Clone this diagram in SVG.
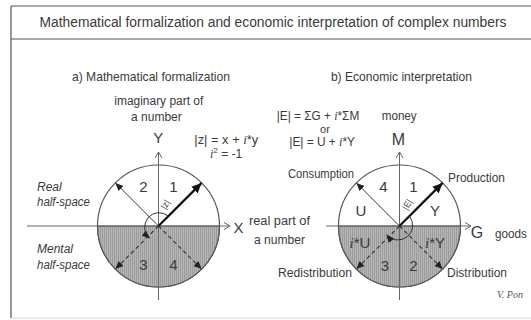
<svg xmlns="http://www.w3.org/2000/svg" width="531" height="320" viewBox="0 0 531 320">
<style>
text{font-family:"Liberation Sans",Arial,sans-serif;fill:#3a3a3a;}
.t12{font-size:12px;}
.t13{font-size:13px;}
.big{font-size:15px;}
.it{font-style:italic;}
.iv{font-family:"Liberation Serif","Times New Roman",serif;font-style:italic;}
.axis{stroke:#666;stroke-width:1;fill:none;}
.circ{stroke:#555;stroke-width:1.2;fill:#fff;}
.thin{stroke:#333;stroke-width:1;fill:none;}
.dash{stroke:#333;stroke-width:1.1;fill:none;stroke-dasharray:4 3;}
.thick{stroke:#111;stroke-width:2.2;fill:none;}
.frame{stroke:#555;stroke-width:1.2;fill:none;}
</style>
<defs>
<pattern id="hatch" width="2" height="2" patternUnits="userSpaceOnUse">
<rect width="2" height="2" fill="#b6b6b6"/>
<rect width="1" height="2" fill="#9c9c9c"/>
</pattern>
<marker id="ax" markerUnits="userSpaceOnUse" markerWidth="10" markerHeight="10" refX="7" refY="4" orient="auto">
<path d="M1 0.5 L7 4 L1 7.5" fill="none" stroke="#666" stroke-width="1"/>
</marker>
<marker id="ah" markerUnits="userSpaceOnUse" markerWidth="10" markerHeight="10" refX="8" refY="4" orient="auto">
<path d="M0 0.5 L8 4 L0 7.5 Z" fill="#222"/>
</marker>
<marker id="ahT" markerUnits="userSpaceOnUse" markerWidth="12" markerHeight="12" refX="10" refY="5" orient="auto">
<path d="M0 0.5 L10 5 L0 9.5 Z" fill="#111"/>
</marker>
</defs>
<rect width="531" height="320" fill="#fff"/>
<g id="frame">
<path class="frame" d="M11 6 H531 M11 39 H531 M11 6 V318"/>
<path d="M11 318 H531" stroke="#d8d8d8" stroke-width="1"/>
</g>
<text id="title" x="273" y="27" text-anchor="middle" style="font-size:14px" textLength="467" lengthAdjust="spacingAndGlyphs">Mathematical formalization and economic interpretation of complex numbers</text>

<g id="circleA">
<circle class="circ" cx="158.5" cy="226" r="61"/>
<path d="M97.5 226 A61 61 0 0 0 219.5 226 Z" fill="url(#hatch)" stroke="#555" stroke-width="1.2"/>
</g>
<g id="circleB">
<circle class="circ" cx="399.5" cy="226" r="61"/>
<path d="M338.5 226 A61 61 0 0 0 460.5 226 Z" fill="url(#hatch)" stroke="#555" stroke-width="1.2"/>
</g>

<g id="connectors">
<line class="axis" x1="27" y1="226" x2="230" y2="226" marker-end="url(#ax)"/>
<line class="axis" x1="158.5" y1="300" x2="158.5" y2="152" marker-end="url(#ax)"/>
<line class="axis" x1="326" y1="226" x2="471" y2="226" marker-end="url(#ax)"/>
<line class="axis" x1="399.5" y1="300" x2="399.5" y2="152" marker-end="url(#ax)"/>

<line class="thick" x1="158.5" y1="226" x2="201.6" y2="182.9" marker-end="url(#ahT)"/>
<line class="thin" x1="158.5" y1="226" x2="115.4" y2="182.9" marker-end="url(#ah)"/>
<line class="dash" x1="158.5" y1="226" x2="115.4" y2="269.1" marker-end="url(#ah)"/>
<line class="dash" x1="158.5" y1="226" x2="201.6" y2="269.1" marker-end="url(#ah)"/>
<path class="thin" d="M168.4 216.1 A14 14 0 1 0 149.9 238.3" marker-end="url(#ah)"/>

<line class="thick" x1="399.5" y1="226" x2="442.6" y2="182.9" marker-end="url(#ahT)"/>
<line class="thin" x1="399.5" y1="226" x2="356.4" y2="182.9" marker-end="url(#ah)"/>
<line class="dash" x1="399.5" y1="226" x2="356.4" y2="269.1" marker-end="url(#ah)"/>
<line class="dash" x1="399.5" y1="226" x2="442.6" y2="269.1" marker-end="url(#ah)"/>
<path class="thin" d="M409.4 216.1 A14 14 0 1 1 386.5 234.5" marker-end="url(#ah)"/>
</g>

<g id="labelsA">
<text class="t13" x="151" y="81" text-anchor="middle" textLength="158" lengthAdjust="spacingAndGlyphs">a) Mathematical formalization</text>
<text class="t12" x="158.8" y="105" text-anchor="middle" textLength="89" lengthAdjust="spacingAndGlyphs">imaginary part of</text>
<text class="t12" x="156.4" y="121" text-anchor="middle">a number</text>
<text class="big" x="158.3" y="143" text-anchor="middle">Y</text>
<text class="t12" x="194.3" y="143.5" textLength="64" lengthAdjust="spacingAndGlyphs">|z| = x + <tspan class="iv">i</tspan>*y</text>
<text class="t12" x="210" y="157.5"><tspan class="iv">i</tspan><tspan dy="-5" style="font-size:8px">2</tspan><tspan dy="5"> = -1</tspan></text>
<text class="t12 it" x="37" y="191">Real</text>
<text class="t12 it" x="37" y="206" textLength="53" lengthAdjust="spacingAndGlyphs">half-space</text>
<text class="t12 it" x="37" y="253">Mental</text>
<text class="t12 it" x="37" y="269" textLength="53" lengthAdjust="spacingAndGlyphs">half-space</text>
<text class="big" x="238.5" y="233" text-anchor="middle">X</text>
<text class="t12" x="249" y="225" textLength="61" lengthAdjust="spacingAndGlyphs">real part of</text>
<text class="t12" x="254" y="243.5" textLength="51" lengthAdjust="spacingAndGlyphs">a number</text>
<text class="big" x="143.3" y="192" text-anchor="middle">2</text>
<text class="big" x="173.3" y="192" text-anchor="middle">1</text>
<text class="big" x="143.3" y="270" text-anchor="middle">3</text>
<text class="big" x="173.3" y="270" text-anchor="middle">4</text>
<text x="0" y="0" style="font-size:9px" transform="translate(168 206) rotate(-60)" text-anchor="middle">|z|</text>
</g>

<g id="labelsB">
<text class="t13" x="401.4" y="81" text-anchor="middle" textLength="141" lengthAdjust="spacingAndGlyphs">b) Economic interpretation</text>
<text class="t12" x="276.7" y="120" textLength="82.6" lengthAdjust="spacingAndGlyphs">|E| = ΣG + <tspan class="iv">i</tspan>*ΣM</text>
<text x="325" y="132.5" text-anchor="middle" style="font-size:11px">or</text>
<text class="t12" x="289.3" y="145.5" textLength="65.7" lengthAdjust="spacingAndGlyphs">|E| = U + <tspan class="iv">i</tspan>*Y</text>
<text class="t12" x="381.7" y="120" textLength="35" lengthAdjust="spacingAndGlyphs">money</text>
<text x="398.5" y="144.5" text-anchor="middle" style="font-size:16px">M</text>
<text class="t12" x="288" y="178" textLength="66" lengthAdjust="spacingAndGlyphs">Consumption</text>
<text class="t12" x="448" y="182" textLength="57" lengthAdjust="spacingAndGlyphs">Production</text>
<text class="t12" x="278" y="277" textLength="74" lengthAdjust="spacingAndGlyphs">Redistribution</text>
<text class="t12" x="447" y="277" textLength="60" lengthAdjust="spacingAndGlyphs">Distribution</text>
<text x="477" y="238" text-anchor="middle" style="font-size:16px">G</text>
<text class="t12" x="495" y="238" textLength="32" lengthAdjust="spacingAndGlyphs">goods</text>
<text class="big" x="383.3" y="192" text-anchor="middle">4</text>
<text class="big" x="413.3" y="192" text-anchor="middle">1</text>
<text class="big" x="361" y="216" text-anchor="middle">U</text>
<text class="big" x="435" y="216" text-anchor="middle">Y</text>
<text class="big" x="360" y="248" text-anchor="middle"><tspan class="iv">i</tspan>*U</text>
<text class="big" x="435" y="248" text-anchor="middle"><tspan class="iv">i</tspan>*Y</text>
<text class="big" x="385" y="271" text-anchor="middle">3</text>
<text class="big" x="413.3" y="271" text-anchor="middle">2</text>
<text x="0" y="0" style="font-size:9px" transform="translate(410 206) rotate(-60)" text-anchor="middle">|E|</text>
<text x="497" y="298" style="font-family:'Liberation Serif',serif;font-style:italic;font-size:10px;fill:#555">V. Pon</text>
</g>
</svg>
